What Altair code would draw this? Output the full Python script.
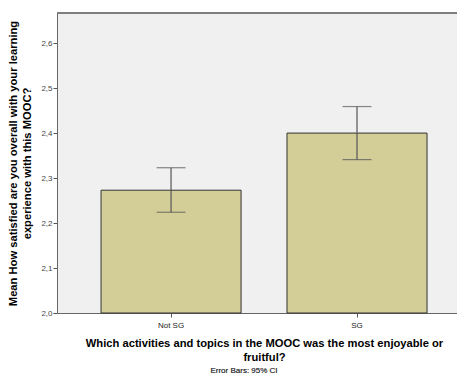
import altair as alt
import pandas as pd

categories = ["Not SG", "SG"]
means = [2.273, 2.400]
ci_low = [2.224, 2.341]
ci_high = [2.323, 2.459]

df = pd.DataFrame({"cat": categories, "mean": means, "lo": ci_low, "hi": ci_high})

xenc = alt.X("cat:N", sort=categories,
             scale=alt.Scale(paddingInner=0.247, paddingOuter=0.199, align=0.595),
             axis=alt.Axis(title=["Which activities and topics in the MOOC was the most enjoyable or", "fruitful?"],
                           labelAngle=0, labelFontSize=8, labelColor="#222", labelFont="Liberation Sans",
                           tickSize=4, tickColor="#555", domainColor="#666", labelPadding=4,
                           titleFont="Liberation Sans", titleFontSize=11.2, titleFontWeight="bold",
                           titleColor="#000", titlePadding=8, titleX=207, titleLineHeight=14))
yscale = alt.Scale(domain=[2.0, 2.667], nice=False, zero=False)
yaxis = alt.Axis(title=["Mean How satisfied are you overall with your learning", "experience with this MOOC?"],
                 values=[2.0, 2.1, 2.2, 2.3, 2.4, 2.5, 2.6],
                 labelExpr="replace(format(datum.value, '.1f'), '.', ',')",
                 labelFontSize=8, labelColor="#444", labelFont="Liberation Sans",
                 tickSize=4, tickColor="#555", domainColor="#666", grid=False, labelPadding=1,
                 titleFont="Liberation Sans", titleFontSize=11.2, titleFontWeight="bold",
                 titleColor="#000", titlePadding=8, titleLineHeight=14)

base = alt.Chart(df)

bars = base.mark_bar(color="#d3ce97", stroke="#333", strokeWidth=1).encode(
    x=xenc,
    y=alt.Y("mean:Q", scale=yscale, axis=yaxis),
    y2=alt.Y2(datum=2.0),
)

err = base.mark_rule(color="#555", strokeWidth=1.2).encode(
    x=alt.X("cat:N", sort=categories), y="lo:Q", y2="hi:Q")
cap_top = base.mark_tick(color="#555", size=29, thickness=1.2).encode(
    x=alt.X("cat:N", sort=categories), y="hi:Q")
cap_bot = base.mark_tick(color="#555", size=29, thickness=1.2).encode(
    x=alt.X("cat:N", sort=categories), y="lo:Q")

top_border = alt.Chart(df).mark_rule(color="#777", strokeWidth=1.5).encode(
    x=alt.value(0), x2=alt.value(400), y=alt.value(0))

note = alt.Chart(df).mark_text(text="Error Bars: 95% CI", fontSize=8, color="#444",
                               font="Liberation Sans", baseline="bottom").encode(
    x=alt.value(187), y=alt.value(362))

chart = alt.layer(bars, err, cap_top, cap_bot, top_border, note).properties(
    width=400, height=300,
    autosize=alt.AutoSizeParams(type="none"),
    padding={"left": 49, "top": 5, "right": 0, "bottom": 62},
).configure_view(fill="#f0f0f0", stroke=None)

chart.save("out.html", embed_options={"renderer": "svg", "actions": False})
